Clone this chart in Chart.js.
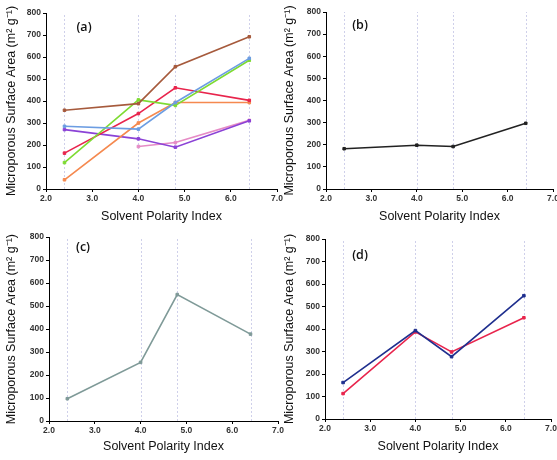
<!DOCTYPE html>
<html>
<head>
<meta charset="utf-8">
<script src="https://cdn.jsdelivr.net/npm/chart.js@4"></script>
<style>
	body { margin: 0; background: #fff; overflow: hidden; }
	.panel { position: absolute; width: 300px; height: 230px; }
</style>
</head>
<body>
<div class="panel" style="left:0;top:0"><canvas id="chartA" width="300" height="230"></canvas></div>
<div class="panel" style="left:278px;top:0"><canvas id="chartB" width="300" height="230"></canvas></div>
<div class="panel" style="left:0;top:230px"><canvas id="chartC" width="300" height="230"></canvas></div>
<div class="panel" style="left:278px;top:230px"><canvas id="chartD" width="300" height="230"></canvas></div>
<script>
// solvent polarity index of each solvent (x positions)
const polarity = [2.4, 4.0, 4.8, 6.4];
const xTicks = [2, 3, 4, 5, 6, 7];
const yTicks = [0, 100, 200, 300, 400, 500, 600, 700, 800];

// (a) seven series
const aBrown = [358, 388, 556, 692];
const aBlue = [285, 272, 393, 594];
const aGreen = [120, 405, 380, 585];
const aRed = [163, 343, 460, 403];
const aOrange = [42, 300, 393, 393];
const aPurple = [270, 228, 190, 310];
const aPink = [null, 193, 211, 312];

// (b)
const bBlack = [182, 198, 192, 297];

// (c)
const cGray = [97, 255, 550, 378];

// (d)
const dNavy = [162, 393, 277, 548];
const dRed = [113, 387, 298, 450];

const yTitle = "Microporous Surface Area (m\u00B2 g\u207B\u00B9)";
const xTitle = "Solvent Polarity Index";

function toPoints(values) {
	return values.map((v, i) => ({ x: polarity[i], y: v }));
}

function makeSet(values, color) {
	return {
		data: toPoints(values),
		borderColor: color,
		backgroundColor: color,
		borderWidth: 1.6,
		pointStyle: "rect",
		pointRadius: 1.8,
		pointBorderWidth: 1,
		spanGaps: false,
	};
}

// dashed drop lines at each solvent + panel label
const panelDeco = {
	id: "panelDeco",
	beforeDatasetsDraw(chart, args, opts) {
		const ctx = chart.ctx;
		const xs = chart.scales.x;
		const area = chart.chartArea;
		ctx.save();
		ctx.strokeStyle = "#cfd0ea";
		ctx.lineWidth = 1;
		ctx.setLineDash([2, 2]);
		polarity.forEach((p) => {
			const px = Math.round(xs.getPixelForValue(p)) + 0.5;
			ctx.beginPath();
			ctx.moveTo(px, area.bottom);
			ctx.lineTo(px, area.top);
			ctx.stroke();
		});
		ctx.restore();
	},
	afterDraw(chart, args, opts) {
		const ctx = chart.ctx;
		const area = chart.chartArea;
		ctx.save();
		ctx.fillStyle = "#111";
		ctx.font = "600 12.5px 'Open Sans', sans-serif";
		ctx.textAlign = "center";
		ctx.textBaseline = "middle";
		ctx.fillText(opts.label, area.left + opts.dx, area.top + opts.dy);
		ctx.restore();
	},
};

const tickFont = { family: "'Liberation Sans', Arial, sans-serif", size: 8.5, weight: "bold" };
const titleFont = { family: "'Liberation Sans', Arial, sans-serif", size: 12.5 };
const axisGrid = { display: true, drawOnChartArea: false, drawTicks: true, tickLength: 3, color: "#000", lineWidth: 1 };

function makePanel(id, datasets, box, label) {
	const canvas = document.getElementById(id);
	const W = canvas.width;
	const H = canvas.height;
	const config = {
		type: "line",
		data: { datasets: datasets },
		options: {
			responsive: false,
			animation: false,
			layout: {
				autoPadding: false,
				padding: { top: box.t, right: W - box.r, left: 0, bottom: 0 },
			},
			plugins: {
				legend: { display: false },
				tooltip: { enabled: false },
				panelDeco: label,
			},
			scales: {
				x: {
					type: "linear",
					min: 2,
					max: 7,
					afterBuildTicks: (s) => { s.ticks = xTicks.map((v) => ({ value: v })); },
					afterFit: (s) => { s.height = H - box.b; },
					grid: axisGrid,
					border: { display: true, color: "#000", width: 1 },
					ticks: {
						padding: 2,
						color: "#333",
						font: tickFont,
						callback: (v) => v.toFixed(1),
					},
					title: {
						display: true,
						text: xTitle,
						color: "#111",
						padding: { top: 0, bottom: 6 },
						font: titleFont,
					},
				},
				y: {
					min: 0,
					max: 800,
					afterBuildTicks: (s) => { s.ticks = yTicks.map((v) => ({ value: v })); },
					afterFit: (s) => { s.width = box.l; },
					grid: axisGrid,
					border: { display: true, color: "#000", width: 1 },
					ticks: {
						padding: 2,
						color: "#333",
						font: tickFont,
					},
					title: {
						display: true,
						text: yTitle,
						color: "#111",
						padding: { top: 4, bottom: 0 },
						font: titleFont,
					},
				},
			},
		},
		plugins: [panelDeco],
	};
	return new Chart(canvas, config);
}

makePanel("chartA", [
	makeSet(aBrown, "#a65a3c"),
	makeSet(aBlue, "#6c9de2"),
	makeSet(aGreen, "#7edb32"),
	makeSet(aRed, "#e8244c"),
	makeSet(aOrange, "#f5894f"),
	makeSet(aPurple, "#8b42d6"),
	makeSet(aPink, "#e68cc6"),
], { l: 46, r: 277, t: 13, b: 189 }, { label: "(a)", dx: 38, dy: 14 });

makePanel("chartB", [
	makeSet(bBlack, "#222"),
], { l: 48, r: 275, t: 12, b: 189 }, { label: "(b)", dx: 34, dy: 13 });

makePanel("chartC", [
	makeSet(cGray, "#7f9a98"),
], { l: 49, r: 278, t: 7, b: 191 }, { label: "(c)", dx: 34, dy: 10 });

makePanel("chartD", [
	makeSet(dNavy, "#1f2f8e"),
	makeSet(dRed, "#e8244c"),
], { l: 47, r: 273, t: 9, b: 189 }, { label: "(d)", dx: 35, dy: 16 });
</script>
</body>
</html>
